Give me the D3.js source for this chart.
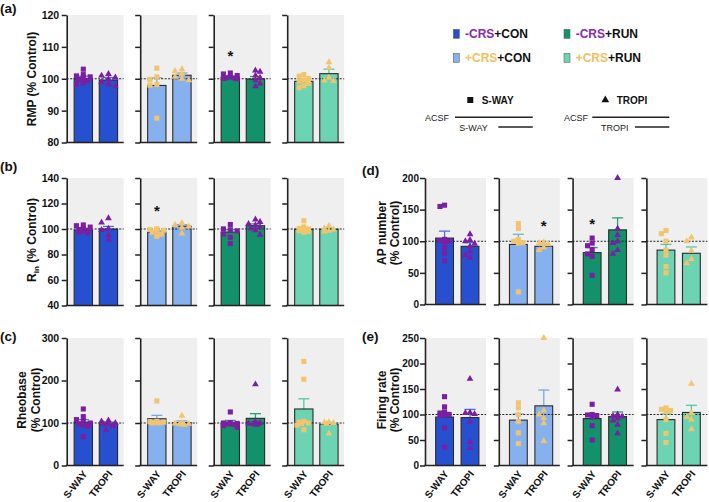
<!DOCTYPE html>
<html><head><meta charset="utf-8">
<script src="https://cdn.jsdelivr.net/npm/d3@7"></script>
<style>body{margin:0;background:#fff} svg{display:block} text{font-family:"Liberation Sans",Arial,sans-serif}</style>
</head><body><svg id="chart" width="709" height="502"></svg>
<script>
// ---------- data ----------
const groups = ["-CRS+CON", "+CRS+CON", "-CRS+RUN", "+CRS+RUN"];
const drugs = ["S-WAY", "TROPI"];

// (a) RMP (% Control)
const rmpTicks = [80, 90, 100, 110, 120];
const rmpMean = [[100.1, 99.6], [97.9, 101.1], [100.5, 99.9], [99.2, 101.6]];
const rmpErr  = [[100.8, 100.4], [100.3, 101.8], [100.8, 100.7], [99.7, 103.0]];
const rmpStars = [[null, null], [null, null], [108, null], [null, null]];
const rmpPts = [
  [[103.0,101.3,100.9,100.6,100.2,99.8,99.4,98.6,98.2],[101.5,101.0,100.4,99.8,99.0,98.3,97.6]],
  [[103.3,100.6,99.8,98.2,98.0,87.6],[103.0,102.4,101.5,100.6,100.0,99.5]],
  [[101.8,101.5,101.0,100.6,100.3,100.2,100.1,100.0],[102.6,102.2,101.0,100.3,99.5,98.5,97.6]],
  [[101.3,100.8,100.1,99.6,99.2,98.5,97.8,97.2],[105.2,103.4,100.3,99.4,99.3]]
];

// (b) Rin (% Control)
const rinTicks = [40, 60, 80, 100, 120, 140];
const rinMean = [[99.2, 100.0], [97.5, 102.2], [97.6, 102.6], [99.8, 99.8]];
const rinErr  = [[100.3, 102.0], [98.5, 103.4], [99.4, 104.0], [101.0, 100.8]];
const rinStars = [[null, null], [116.3, null], [null, null], [null, null]];
const rinPts = [
  [[103.2,102.6,101.5,100.5,99.6,99.0,98.3,97.6,97.0],[108.4,105.0,100.3,99.2,95.3,91.6]],
  [[100.2,99.6,99.0,98.2,97.5,96.0,94.2],[104.6,103.1,102.0,101.0,96.5]],
  [[103.5,100.1,99.4,98.5,96.1,93.5,88.6],[107.5,105.5,104.0,103.0,101.5,100.5,99.0,95.5]],
  [[106.5,101.6,100.5,100.0,99.5,98.6,98.0,97.4],[102.5,100.5,99.5,98.5,98.0]]
];

// (c) Rheobase (% Control)
const rheoTicks = [0, 100, 200, 300];
const rheoMean = [[102, 98], [110, 101], [100, 111], [133, 97]];
const rheoErr  = [[108, 102], [118, 105], [106, 122], [157, 101]];
const rheoStars = [[null, null], [null, null], [null, null], [null, null]];
const rheoPts = [
  [[133,115,108,104,100,98,95,92,68],[106,104,100,98,97,93,83]],
  [[152,104,103,102,101,100,100],[117,100,99,98,97,96]],
  [[126,101,100,99,98,97,94,90],[191,102,100,99,98,97,96]],
  [[245,203,104,102,100,99,95,84],[102,101,100,98,75]]
];

// (d) AP number (% Control)
const apTicks = [0, 50, 100, 150, 200];
const apMean = [[105, 92], [95, 92], [82, 118], [86, 81]];
const apErr  = [[116, 98], [111, 96], [90, 137], [95, 91]];
const apStars = [[null, null], [null, 128.7], [131, null], [null, null]];
const apPts = [
  [[157,155,103,101,100,99,90,81,69],[111,102,100,96,92,84,78,74]],
  [[128,120,103,100,98,97,20],[98,97,95,90,86]],
  [[105,97,93,87,80,76,46],[200,120,110,100,97,86,80]],
  [[117,112,100,86,78,60,50],[106,100,85,72,65]]
];

// (e) Firing rate (% Control)
const frTicks = [0, 50, 100, 150, 200, 250];
const frMean = [[95, 94], [89, 117], [92, 96], [90, 104]];
const frErr  = [[104, 110], [101, 148], [99, 105], [101, 118]];
const frStars = [[null, null], [null, null], [null, null], [null, null]];
const frPts = [
  [[135,115,105,103,100,99,98,74,36],[170,104,103,101,86,46,34]],
  [[123,113,100,86,64,43],[250,108,100,93,83,48]],
  [[120,100,99,98,95,78,50],[149,100,97,96,92,88,80,63]],
  [[113,110,108,105,90,63,45],[160,103,95,90,71]]
];

const controlLevel = 100;

// ---------- style ----------
const barColors = ["#2750d1", "#86b1ee", "#13916b", "#6cd3b3"];
const errColors = ["#4a70e0", "#7aa7ea", "#2a9e7a", "#55c7a5"];
const dotColors = ["#7b1fa2", "#f1c46e", "#7b1fa2", "#f1c46e"];
const legendTextColors = ["#8a2aa8", "#f1bf5c", "#8a2aa8", "#f1bf5c"];
const font = '"Liberation Sans", Arial, sans-serif';

const svg = d3.select("#chart");

const left = {x0: 66.7, step: 73.5, w: 57, pi: 0.27, po: 0.27, al: 0.55, tp: 2.5, tf: 10.5};
const right = {x0: 425, step: 73.8, w: 61, pi: 0.3, po: 0.35, al: 0.6, tp: 1, tf: 10};

const panels = [
  {tag: "(a)", tagX: 0, tagY: 12.5, L: left, yt: 15, yb: 142.5, domain: [80, 120], ticks: rmpTicks,
   mean: rmpMean, err: rmpErr, pts: rmpPts, stars: rmpStars, ylab: [["RMP (% Control)"]], labX: [36], labCy: 79, xlabels: false},
  {tag: "(b)", tagX: 0, tagY: 171, L: left, yt: 178, yb: 305.5, domain: [40, 140], ticks: rinTicks,
   mean: rinMean, err: rinErr, pts: rinPts, stars: rinStars, ylab: "rin", labX: [36], labCy: 240, xlabels: false},
  {tag: "(c)", tagX: 0, tagY: 341, L: left, yt: 338, yb: 465.5, domain: [0, 300], ticks: rheoTicks,
   mean: rheoMean, err: rheoErr, pts: rheoPts, stars: rheoStars, ylab: [["Rheobase"], ["(% Control)"]], labX: [26, 40], labCy: 400, xlabels: true},
  {tag: "(d)", tagX: 362, tagY: 175, L: right, yt: 178, yb: 304.5, domain: [0, 200], ticks: apTicks,
   mean: apMean, err: apErr, pts: apPts, stars: apStars, ylab: [["AP number"], ["(% Control)"]], labX: [386, 398.5], labCy: 233, xlabels: false},
  {tag: "(e)", tagX: 362, tagY: 341, L: right, yt: 338, yb: 465.5, domain: [0, 250], ticks: frTicks,
   mean: frMean, err: frErr, pts: frPts, stars: frStars, ylab: [["Firing rate"], ["(% Control)"]], labX: [385.5, 398.5], labCy: 400, xlabels: true}
];

// simple beeswarm placement within a bar
function swarm(vals, y, cx, half) {
  const placed = [];
  const s = 4.6;
  const cands = [0, -2.3, 2.3, -4.6, 4.6, -6.9, 6.9].filter(o => Math.abs(o) <= half);
  return vals.map(v => {
    const py = y(v);
    let best = null, bestScore = -Infinity;
    for (const o of cands) {
      let minD = Infinity;
      for (const q of placed) {
        const dx = Math.abs(q.x - (cx + o)), dy = Math.abs(q.y - py);
        if (dx < s && dy < s) minD = Math.min(minD, Math.max(dx, dy));
      }
      if (minD === Infinity) { best = o; bestScore = Infinity; break; }
      if (minD > bestScore) { bestScore = minD; best = o; }
    }
    const p = {x: cx + best, y: py, v};
    placed.push(p);
    return p;
  });
}

panels.forEach(p => {
  const y = d3.scaleLinear().domain(p.domain).range([p.yb, p.yt]);
  const L = p.L;

  svg.append("text").attr("x", p.tagX).attr("y", p.tagY).attr("font-size", 13.5).attr("font-weight", "bold")
    .attr("fill", "#111").text(p.tag);

  // y label
  if (p.ylab === "rin") {
    const t = svg.append("text").attr("transform", `translate(${p.labX[0]},${p.labCy}) rotate(-90)`)
      .attr("text-anchor", "middle").attr("font-size", 12).attr("font-weight", "bold").attr("fill", "#111");
    t.append("tspan").text("R");
    t.append("tspan").attr("font-size", 8).attr("dy", 3).text("in");
    t.append("tspan").attr("dy", -3).text(" (% Control)");
  } else {
    p.ylab.forEach((ln, i) => {
      svg.append("text").attr("transform", `translate(${p.labX[i]},${p.labCy}) rotate(-90)`)
        .attr("text-anchor", "middle").attr("font-size", 12).attr("font-weight", "bold").attr("fill", "#111")
        .text(ln[0]);
    });
  }

  groups.forEach((g, gi) => {
    const ax = L.x0 + gi * L.step;
    const x = d3.scaleBand().domain(drugs).range([ax, ax + L.w])
      .paddingInner(L.pi).paddingOuter(L.po).align(L.al);
    const bw = x.bandwidth();
    const sg = svg.append("g");

    sg.append("rect").attr("x", ax).attr("y", p.yt).attr("width", L.w).attr("height", p.yb - p.yt)
      .attr("fill", "#efefef");

    // error bars (upper half)
    drugs.forEach((d, di) => {
      const cx = x(d) + bw / 2;
      sg.append("line").attr("x1", cx).attr("x2", cx).attr("y1", y(p.mean[gi][di])).attr("y2", y(p.err[gi][di]))
        .attr("stroke", errColors[gi]).attr("stroke-width", 1.3);
      sg.append("line").attr("x1", cx - 5.5).attr("x2", cx + 5.5).attr("y1", y(p.err[gi][di])).attr("y2", y(p.err[gi][di]))
        .attr("stroke", errColors[gi]).attr("stroke-width", 1.3);
    });

    // bars
    sg.selectAll("rect.bar").data(drugs).join("rect").attr("class", "bar")
      .attr("x", d => x(d)).attr("width", bw)
      .attr("y", (d, di) => y(p.mean[gi][di]))
      .attr("height", (d, di) => y(p.domain[0]) - y(p.mean[gi][di]))
      .attr("fill", barColors[gi]).attr("stroke", "#2b2b2b").attr("stroke-width", 1.1);

    // control line
    sg.append("line").attr("x1", ax).attr("x2", ax + L.w).attr("y1", y(controlLevel)).attr("y2", y(controlLevel))
      .attr("stroke", "#222").attr("stroke-width", 1).attr("stroke-dasharray", "2,1.5");

    // points
    drugs.forEach((d, di) => {
      const cx = x(d) + bw / 2;
      const pos = swarm(p.pts[gi][di], y, cx, bw / 2 - 2);
      const sym = d3.symbol().type(di === 0 ? d3.symbolSquare : d3.symbolTriangle).size(di === 0 ? 26 : 20);
      sg.selectAll(null).data(pos).join("path")
        .attr("transform", q => `translate(${q.x},${q.y})`)
        .attr("d", sym).attr("fill", dotColors[gi]);
      const st = p.stars[gi][di];
      if (st !== null) {
        sg.append("text").attr("x", cx).attr("y", y(st) + 7.5).attr("text-anchor", "middle")
          .attr("font-size", 15).attr("font-weight", "bold").attr("fill", "#111").text("*");
      }
    });

    // axes
    const axis = d3.axisLeft(y).tickValues(p.ticks).tickSize(5).tickSizeOuter(0).tickPadding(L.tp)
      .tickFormat(gi === 0 ? d3.format("d") : () => "");
    const ag = sg.append("g").attr("transform", `translate(${ax},0)`).call(axis);
    ag.select(".domain").attr("stroke", "#222").attr("stroke-width", 1.6);
    ag.selectAll(".tick line").attr("stroke", "#222").attr("stroke-width", 1.5);
    ag.selectAll(".tick text").attr("font-size", L.tf).attr("font-weight", "bold").attr("fill", "#111")
      .attr("font-family", font);
    sg.append("line").attr("x1", ax - 0.8).attr("x2", ax + L.w).attr("y1", p.yb).attr("y2", p.yb)
      .attr("stroke", "#222").attr("stroke-width", 1.6);

    if (p.xlabels) {
      drugs.forEach(d => {
        const cx = x(d) + bw / 2;
        sg.append("text").attr("transform", `translate(${cx + 4.5},${p.yb + 8.5}) rotate(-52)`)
          .attr("text-anchor", "end").attr("font-size", 10).attr("font-weight", "bold").attr("fill", "#111")
          .text(d);
      });
    }
  });
});

// ---------- legend ----------
const legPos = [[453.3, 29.3], [453.3, 53.3], [564, 29.3], [564, 53.3]];
const legOrder = [0, 1, 2, 3];
legOrder.forEach(gi => {
  const [lx, ly] = legPos[gi];
  svg.append("rect").attr("x", lx).attr("y", ly).attr("width", 6).attr("height", 9)
    .attr("fill", barColors[gi]).attr("stroke", "#666").attr("stroke-width", 0.6);
  const name = groups[gi];
  const t = svg.append("text").attr("x", lx + 11.7).attr("y", ly + 8.3).attr("font-size", 12).attr("font-weight", "bold");
  t.append("tspan").attr("fill", legendTextColors[gi]).text(name.slice(0, 4));
  t.append("tspan").attr("fill", "#111").text(name.slice(4));
});

// drug legend
const drugLeg = [{x: 467.3, lx1: 455, lx2: 532.7, sx1: 498.3, acsfX: 425, subX: 459.3},
                 {x: 602.3, lx1: 592.3, lx2: 669.3, sx1: 635, acsfX: 564, subX: 601}];
drugs.forEach((d, di) => {
  const o = drugLeg[di];
  const sym = d3.symbol().type(di === 0 ? d3.symbolSquare : d3.symbolTriangle).size(di === 0 ? 36 : 26);
  svg.append("path").attr("transform", `translate(${o.x + 3},${100})`).attr("d", sym).attr("fill", "#111");
  svg.append("text").attr("x", o.x + 14.4).attr("y", 103.5).attr("font-size", 10).attr("font-weight", "bold")
    .attr("fill", "#111").text(d);
  svg.append("text").attr("x", o.acsfX).attr("y", 120.7).attr("font-size", 9).attr("fill", "#222").text("ACSF");
  svg.append("line").attr("x1", o.lx1).attr("x2", o.lx2).attr("y1", 117.3).attr("y2", 117.3)
    .attr("stroke", "#222").attr("stroke-width", 1.6);
  svg.append("text").attr("x", o.subX).attr("y", 130.5).attr("font-size", 9).attr("fill", "#222").text(d);
  svg.append("line").attr("x1", o.sx1).attr("x2", o.lx2).attr("y1", 127).attr("y2", 127)
    .attr("stroke", "#222").attr("stroke-width", 1.6);
});
</script></body></html>
